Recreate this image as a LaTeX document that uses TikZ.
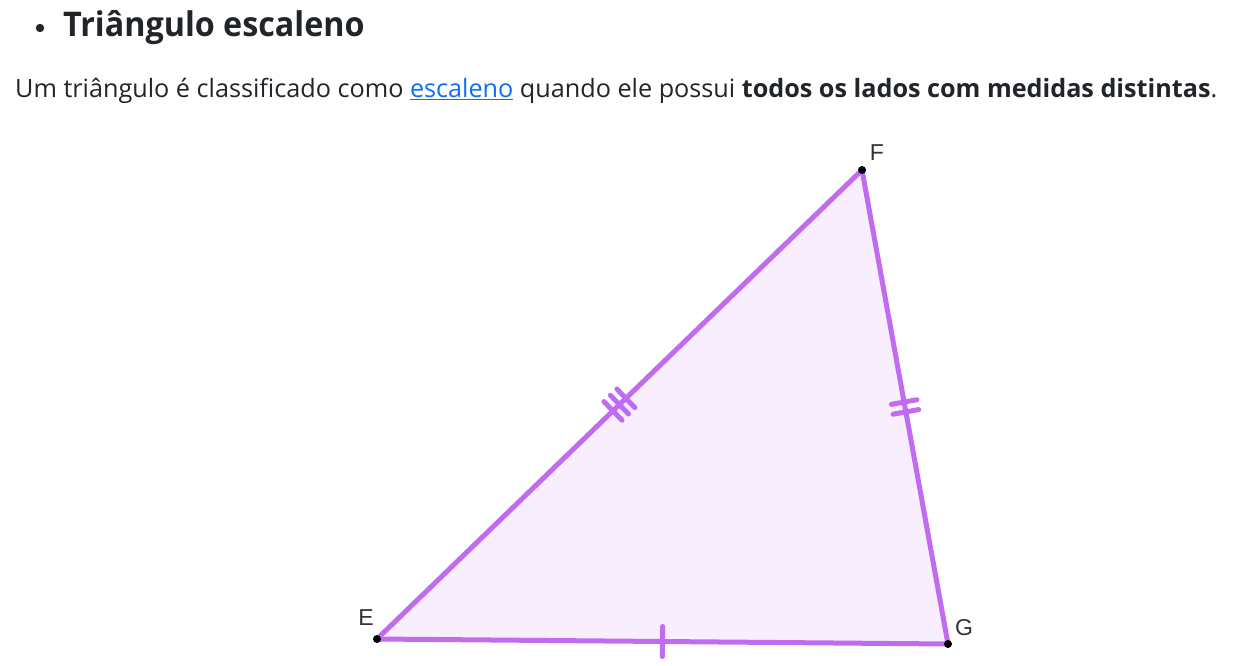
\documentclass[tikz,border=0pt]{standalone}
\usepackage{fontspec}
\setmainfont{Open Sans}
\newfontfamily\headfont[FakeStretch=0.95]{Open Sans}
\newfontfamily\labelfont{Liberation Sans}
\usetikzlibrary{decorations.markings,calc}
\definecolor{txt}{HTML}{212529}
\definecolor{lnk}{HTML}{0D6EFD}
\definecolor{edgec}{HTML}{C06CF0}
\definecolor{fillp}{HTML}{F9EEFD}
\definecolor{labc}{HTML}{333333}
\begin{document}
\begin{tikzpicture}[x=1pt,y=-1pt,
  side/.style={draw=edgec,line width=5pt,line cap=round},
  tk/.style={edgec,line width=5pt,line cap=round},
  tickone/.style={postaction={decorate},decoration={markings,mark=at position 0.5 with {\draw[tk] (0,-15pt) -- (0,15pt);}}},
  ticktwo/.style={postaction={decorate},decoration={markings,mark=at position 0.5 with {\draw[tk] (-5pt,-13pt) -- (-5pt,13pt); \draw[tk] (5pt,-13pt) -- (5pt,13pt);}}},
  tickthree/.style={postaction={decorate},decoration={markings,mark=at position 0.5 with {\draw[tk] (-9pt,-13pt) -- (-9pt,13pt); \draw[tk] (0pt,-13pt) -- (0pt,13pt); \draw[tk] (9pt,-13pt) -- (9pt,13pt);}}},
  vtx/.style={circle,fill=black,inner sep=0pt,minimum size=8pt},
  lab/.style={text=labc,font=\labelfont\fontsize{23}{26}\selectfont,inner sep=0pt},
  body/.style={text=txt,font=\fontsize{25.2}{29}\selectfont,inner sep=0pt,anchor=base west}
]
\useasboundingbox[fill=white] (0,0) rectangle (1237,666);
% heading
\fill[txt] (40,28) circle (4.2);
\node[body,font=\headfont\bfseries\fontsize{34}{38}\selectfont] (head) at (63,37) {Triângulo escaleno};
% body text
\node[body] (para) at (15,98) {Um triângulo é classificado como \textcolor{lnk}{\underline{escaleno}} quando ele possui \textbf{todos os lados com medidas distintas}.};
% triangle
\coordinate (E) at (377,639);
\coordinate (F) at (862,170);
\coordinate (G) at (948,644);
\fill[fillp] (E) -- (F) -- (G) -- cycle;
\draw[side,tickthree] (E) -- (F);
\draw[side,ticktwo] (F) -- (G);
\draw[side,tickone] (E) -- (G);
\node[vtx] (dE) at (E) {};
\node[vtx] (dF) at (F) {};
\node[vtx] (dG) at (G) {};
\node[lab] (lE) at (366,618) {E};
\node[lab] (lF) at (877,153) {F};
\node[lab] (lG) at (964,628) {G};
\end{tikzpicture}
\end{document}
